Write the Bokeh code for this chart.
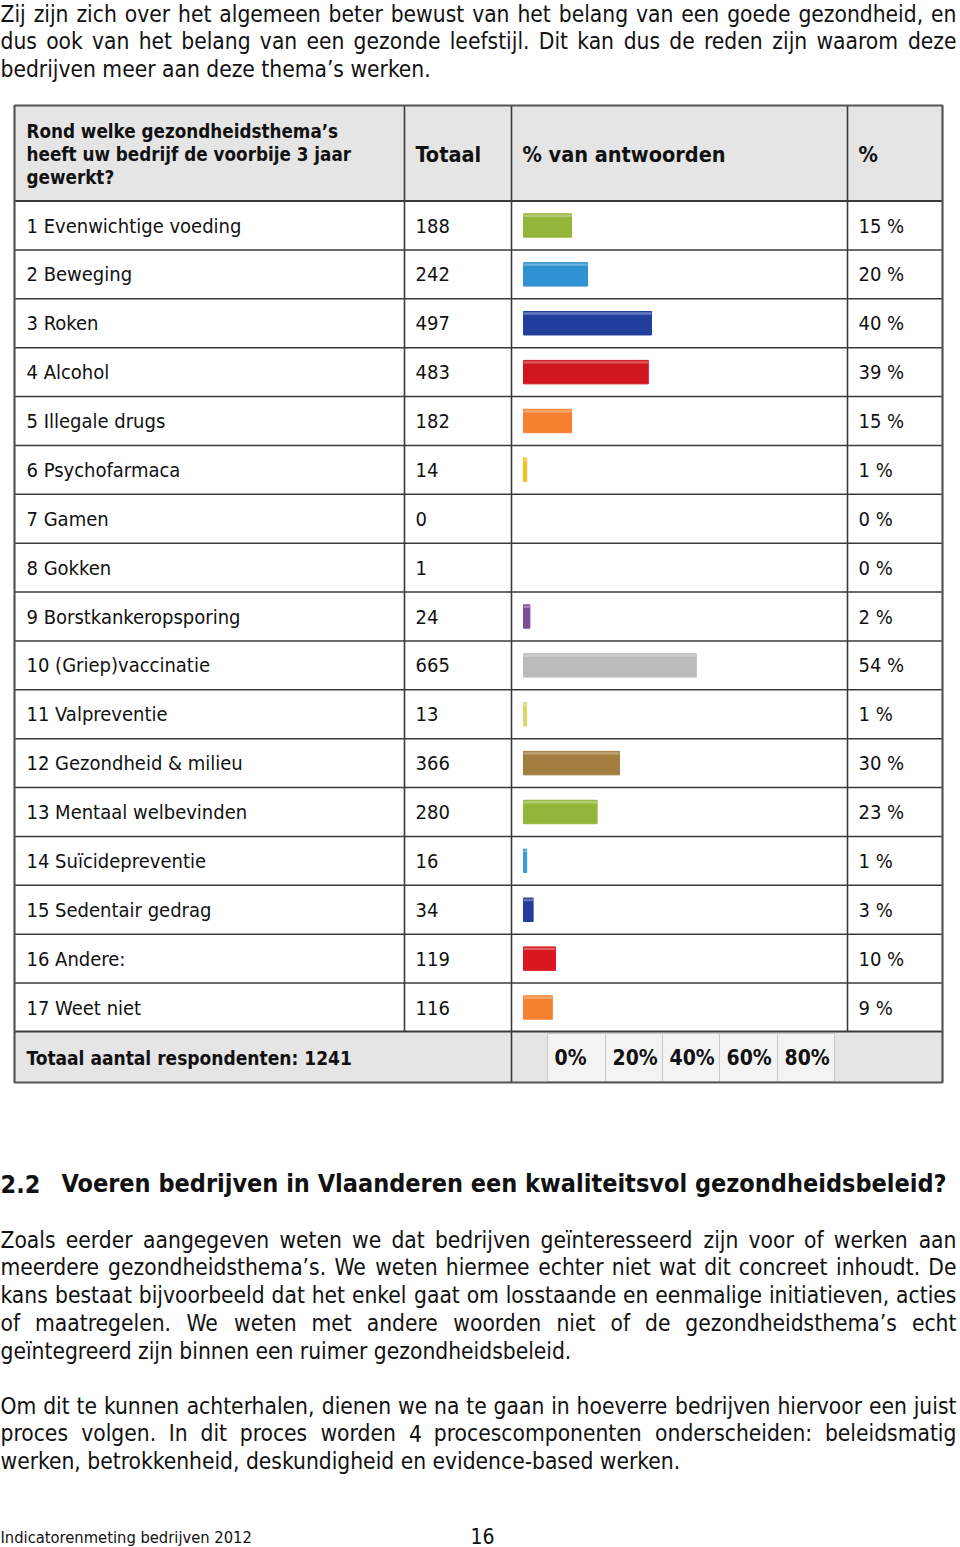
from bokeh.plotting import figure
from bokeh.models import Range1d, ColumnDataSource
from bokeh.core.properties import value
from bokeh.embed import file_html
from bokeh.resources import INLINE

# ---------------- data ----------------
categories = [
    "1 Evenwichtige voeding", "2 Beweging", "3 Roken", "4 Alcohol",
    "5 Illegale drugs", "6 Psychofarmaca", "7 Gamen", "8 Gokken",
    "9 Borstkankeropsporing", "10 (Griep)vaccinatie", "11 Valpreventie",
    "12 Gezondheid & milieu", "13 Mentaal welbevinden", "14 Suïcidepreventie",
    "15 Sedentair gedrag", "16 Andere:", "17 Weet niet",
]
totals = [188, 242, 497, 483, 182, 14, 0, 1, 24, 665, 13, 366, 280, 16, 34, 119, 116]
percents = [15, 20, 40, 39, 15, 1, 0, 0, 2, 54, 1, 30, 23, 1, 3, 10, 9]
bar_colors = [
    "#93b53a", "#2f93d3", "#233f9e", "#d2161f", "#f6802f", "#f0c21c", "#ffffff",
    "#ffffff", "#7b4f97", "#bcbcbc", "#d8d86e", "#a27d3d", "#93b53a", "#3b9bd8",
    "#27399a", "#d8171f", "#f6802f",
]
scale_labels = ["0%", "20%", "40%", "60%", "80%"]
respondents = 1241

header_question = ["Rond welke gezondheidsthema’s", "heeft uw bedrijf de voorbije 3 jaar", "gewerkt?"]
para1 = [
    "Zij zijn zich over het algemeen beter bewust van het belang van een goede gezondheid, en",
    "dus ook van het belang van een gezonde leefstijl. Dit kan dus de reden zijn waarom deze",
    "bedrijven  meer aan deze thema’s werken.",
]
heading_num = "2.2"
heading_txt = "Voeren bedrijven in Vlaanderen een kwaliteitsvol gezondheidsbeleid?"
para2 = [
    "Zoals eerder aangegeven weten we dat bedrijven geïnteresseerd zijn voor of werken aan",
    "meerdere gezondheidsthema’s. We weten hiermee echter niet wat dit concreet inhoudt. De",
    "kans bestaat bijvoorbeeld dat het enkel gaat om losstaande en eenmalige initiatieven, acties",
    "of maatregelen. We weten met andere woorden niet of de gezondheidsthema’s echt",
    "geïntegreerd zijn binnen een ruimer gezondheidsbeleid.",
]
para3 = [
    "Om dit te kunnen achterhalen, dienen we na te gaan in hoeverre bedrijven hiervoor een  juist",
    "proces volgen. In dit proces worden 4 procescomponenten onderscheiden: beleidsmatig",
    "werken, betrokkenheid, deskundigheid en evidence-based werken.",
]
footer_left = "Indicatorenmeting bedrijven 2012"
page_no = "16"

# ---------------- layout constants ----------------
W, H = 960, 1547
FONT = value("DejaVu Sans Condensed, DejaVu Sans")
TL, TR = 14, 942            # table left / right
C1, C2, C3 = 404, 511, 847  # column dividers
HEAD_TOP, HEAD_BOT = 105, 200.5
ROW1_Y, RH = 225, 48.875
FOOT_TOP, FOOT_BOT = 1031, 1082
BAR0, PXP = 523, 3.2        # bar zero (px) and px per percent
TEXT_RIGHT = 956
BODY = 22.6

# approximate advance widths (em) for text layout of justified lines
_EM = {" ": .318, "a": .613, "b": .635, "c": .550, "d": .635, "e": .615, "f": .352,
       "g": .635, "h": .634, "i": .278, "j": .278, "k": .579, "l": .278, "m": .974,
       "n": .634, "o": .612, "p": .635, "q": .635, "r": .411, "s": .521, "t": .392,
       "u": .634, "v": .592, "w": .818, "x": .592, "y": .592, "z": .525, "D": .770,
       "I": .295, "O": .787, "W": .989, "Z": .685, "E": .632, ",": .318, ".": .318,
       ":": .337, "’": .318, "ï": .278, "-": .361}

def tw(s, size):
    return sum(_EM.get(ch, .6) for ch in s) * size * 0.9

p = figure(width=W, height=H, x_range=Range1d(0, W), y_range=Range1d(H, 0),
           output_backend="svg", toolbar_location=None, min_border=0,
           x_axis_location=None, y_axis_location=None,
           outline_line_color=None, background_fill_color="white",
           border_fill_color="white")
p.grid.visible = False
p.extra_y_ranges = {"row": Range1d(start=1 + (H - ROW1_Y) / RH, end=1 - ROW1_Y / RH)}
p.extra_x_ranges = {"pct": Range1d(start=-BAR0 / PXP, end=(W - BAR0) / PXP)}

TXT = "#111111"

def txt(xs, ys, ts, size, bold=False, **kw):
    p.text(x=xs, y=ys, text=ts, text_font=FONT, text_font_size=f"{size}px",
           text_font_style="bold" if bold else "normal", text_color=TXT,
           text_baseline="middle", text_align="left", **kw)

def paragraph(texts, y0, dy, size):
    xs, ys, ts = [], [], []
    for i, line in enumerate(texts):
        y = y0 + i * dy
        if i == len(texts) - 1:
            xs.append(0); ys.append(y); ts.append(line)
            continue
        words = line.split()
        widths = [tw(w, size) for w in words]
        gap = (TEXT_RIGHT - sum(widths)) / (len(words) - 1)
        x = 0.0
        for w, wd in zip(words, widths):
            xs.append(x); ys.append(y); ts.append(w)
            x += wd + gap
    txt(xs, ys, ts, size)

# ---------------- paragraphs ----------------
paragraph(para1, 13, 27.7, BODY)
txt([0, 61], [1183, 1183], [heading_num, heading_txt], 25, bold=True)
paragraph(para2, 1239, 27.9, BODY)
paragraph(para3, 1405, 27.7, BODY)
txt([0], [1537], [footer_left], 16.4)
txt([470], [1535], [page_no], 21)

# ---------------- table backgrounds ----------------
p.quad(left=[TL, TL], right=[TR, TR], top=[HEAD_TOP, FOOT_TOP], bottom=[HEAD_BOT, FOOT_BOT],
       fill_color="#e5e5e5", line_color=None)
n_sc = len(scale_labels)
cell_edges = [547, 605, 662, 719, 777, 834]
p.quad(left=cell_edges[:-1], right=cell_edges[1:], top=[FOOT_TOP + 2] * n_sc,
       bottom=[FOOT_BOT - 1] * n_sc, fill_color="#f3f3f3", line_color="#c8c8c8", line_width=1)

# ---------------- grid lines ----------------
n = len(categories)
row_edges = [r + 0.5 for r in range(1, n)]
p.segment(x0=[TL] * len(row_edges), x1=[TR] * len(row_edges), y0=row_edges, y1=row_edges,
          y_range_name="row", line_color="#3a3a3a", line_width=1.6)
p.segment(x0=[TL, TL], x1=[TR, TR], y0=[HEAD_BOT, FOOT_TOP], y1=[HEAD_BOT, FOOT_TOP],
          line_color="#3a3a3a", line_width=1.8)
p.segment(x0=[C1, C2, C3, C2], x1=[C1, C2, C3, C2],
          y0=[HEAD_TOP, HEAD_TOP, HEAD_TOP, FOOT_TOP], y1=[FOOT_TOP, FOOT_TOP, FOOT_TOP, FOOT_BOT],
          line_color="#3a3a3a", line_width=1.6)
p.quad(left=[TL], right=[TR], top=[HEAD_TOP], bottom=[FOOT_BOT], fill_color=None,
       line_color="#555555", line_width=2.2)

# ---------------- header ----------------
txt([26] * 3, [131, 154, 177], header_question, 18.7, bold=True)
txt([415, 522, 858], [154] * 3, ["Totaal", "% van antwoorden", "%"], 21.5, bold=True)

# ---------------- rows ----------------
rows = list(range(1, n + 1))
src = ColumnDataSource(dict(
    row=rows, cat=categories, tot=[str(t) for t in totals],
    pct_lbl=[f"{v} %" for v in percents],
))
for col, x in (("cat", 26), ("tot", 415), ("pct_lbl", 858)):
    p.text(x=x, y="row", text=col, source=src, y_range_name="row", text_font=FONT,
           text_font_size="20px", text_baseline="middle", text_color=TXT)

# bars (only non-zero)
bsrc = ColumnDataSource(dict(
    row=[r for r, v in zip(rows, percents) if v > 0],
    top_row=[r - 0.2 for r, v in zip(rows, percents) if v > 0],
    pct=[v for v in percents if v > 0],
    color=[c for c, v in zip(bar_colors, percents) if v > 0],
))
p.hbar(y="row", left=0, right="pct", height=0.48, source=bsrc, x_range_name="pct",
       y_range_name="row", fill_color="color", line_color="color", line_width=1)
# glossy highlight near top of each bar
p.hbar(y="top_row", left=0, right="pct", height=0.05, source=bsrc, x_range_name="pct",
       y_range_name="row", fill_color="white", fill_alpha=0.3, line_color=None)

# ---------------- footer row ----------------
txt([26], [1057], [f"Totaal aantal respondenten: {respondents}"], 19, bold=True)
txt([e + 7 for e in cell_edges[:-1]], [1057] * n_sc, scale_labels, 21, bold=True)

open("out.html", "w").write(file_html(p, INLINE))
